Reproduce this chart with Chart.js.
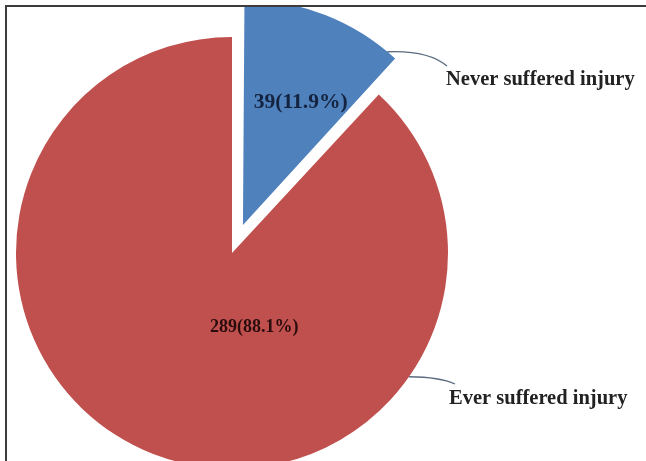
<!DOCTYPE html>
<html><head><meta charset="utf-8">
<script src="https://cdn.jsdelivr.net/npm/chart.js@4/dist/chart.umd.min.js"></script>
<style>
html,body{margin:0;padding:0;background:#fff;width:646px;height:461px;overflow:hidden;position:relative}
#clip{position:absolute;left:7px;top:7px;width:630px;height:454px;overflow:hidden}
#wrap{position:absolute;left:-7px;top:-7px;width:637px;height:506px}
#lineTop{position:absolute;left:5px;top:5px;width:641px;height:2px;background:#3c3c3c}
#lineLeft{position:absolute;left:5px;top:5px;width:2px;height:456px;background:#3c3c3c}
</style></head><body>
<div id="clip"><div id="wrap"><canvas id="c" width="637" height="506"></canvas></div></div>
<div id="lineTop"></div><div id="lineLeft"></div>
<script>
const categories = ['Never suffered injury', 'Ever suffered injury'];
const counts = [39, 289];
const percents = [11.9, 88.1];
const sliceColors = ['#4F81BD', '#C0504D'];

const labelPlugin = {
  id: 'sliceLabels',
  afterDatasetsDraw(chart, args, opts) {
    const ctx = chart.ctx;
    const meta = chart.getDatasetMeta(0);
    meta.data.forEach((arc, i) => {
      const p = arc.getProps(['x', 'y', 'startAngle', 'endAngle', 'outerRadius'], true);
      const span = p.endAngle - p.startAngle;
      const mid = (p.startAngle + p.endAngle) / 2;
      const off = (arc.options.offset || 0) / 4;
      const cx = p.x + Math.cos(mid) * off;
      const cy = p.y + Math.sin(mid) * off;
      const R = p.outerRadius + off * (1 - Math.sin(Math.min(Math.PI, span)));
      const cfg = opts.items[i];
      const a = p.startAngle + span * cfg.inner[0];
      const r = R * cfg.inner[1];
      ctx.save();
      ctx.font = cfg.innerFont;
      ctx.textAlign = 'center';
      ctx.textBaseline = 'middle';
      ctx.fillStyle = cfg.innerColor;
      ctx.fillText(counts[i] + '(' + percents[i].toFixed(1) + '%)', cx + Math.cos(a) * r, cy + Math.sin(a) * r);
      const la = p.startAngle + span * cfg.leaderAt;
      const sx = cx + Math.cos(la) * R, sy = cy + Math.sin(la) * R;
      ctx.beginPath();
      ctx.moveTo(sx, sy);
      ctx.quadraticCurveTo(cfg.ctrl[0], cfg.ctrl[1], cfg.end[0], cfg.end[1]);
      ctx.strokeStyle = '#5b6b80';
      ctx.lineWidth = 1.3;
      ctx.stroke();
      ctx.font = opts.font;
      ctx.textAlign = 'left';
      ctx.fillStyle = '#222';
      ctx.fillText(categories[i], cfg.text[0], cfg.text[1]);
      ctx.restore();
    });
  }
};

new Chart(document.getElementById('c'), {
  type: 'pie',
  data: {
    labels: categories,
    datasets: [{
      data: counts,
      backgroundColor: sliceColors,
      borderWidth: 0,
      offset: [120, 0]
    }]
  },
  options: {
    responsive: false,
    animation: false,
    radius: 216,
    layout: { padding: { left: 0, right: 173, top: 0, bottom: 0 } },
    plugins: {
      legend: { display: false },
      tooltip: { enabled: false },
      sliceLabels: {
        font: 'bold 20.5px "Liberation Serif", "Times New Roman", serif',
        items: [
          { inner: [0.59, 0.6], innerFont: 'bold 21.5px "Liberation Serif", "Times New Roman", serif', innerColor: '#14233f', leaderAt: 0.93, ctrl: [428, 50], end: [447, 66], text: [446, 80] },
          { inner: [0.38, 0.359], innerFont: 'bold 18px "Liberation Serif", "Times New Roman", serif', innerColor: '#2a0c0c', leaderAt: 0.259, ctrl: [440, 377], end: [455, 384], text: [449, 399] }
        ]
      }
    }
  },
  plugins: [labelPlugin]
});
</script>
</body></html>
